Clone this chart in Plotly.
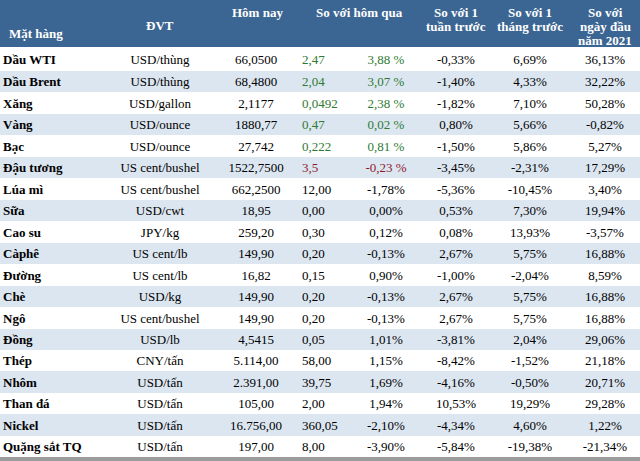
import plotly.graph_objects as go

items = ["Dầu WTI", "Dầu Brent", "Xăng", "Vàng", "Bạc", "Đậu tương", "Lúa mì", "Sữa",
         "Cao su", "Càphê", "Đường", "Chè", "Ngô", "Đồng", "Thép", "Nhôm", "Than đá",
         "Nickel", "Quặng sắt TQ"]
units = ["USD/thùng", "USD/thùng", "USD/gallon", "USD/ounce", "USD/ounce", "US cent/bushel",
         "US cent/bushel", "USD/cwt", "JPY/kg", "US cent/lb", "US cent/lb", "USD/kg",
         "US cent/bushel", "USD/lb", "CNY/tấn", "USD/tấn", "USD/tấn", "USD/tấn", "USD/tấn"]
today = ["66,0500", "68,4800", "2,1177", "1880,77", "27,742", "1522,7500", "662,2500", "18,95",
         "259,20", "149,90", "16,82", "149,90", "149,90", "4,5415", "5.114,00", "2.391,00",
         "105,00", "16.756,00", "197,00"]
chg = ["2,47", "2,04", "0,0492", "0,47", "0,222", "3,5", "12,00", "0,00", "0,30", "0,20", "0,15",
       "0,20", "0,20", "0,05", "58,00", "39,75", "2,00", "360,05", "8,00"]
chg_pct = ["3,88 %", "3,07 %", "2,38 %", "0,02 %", "0,81 %", "-0,23 %", "-1,78%", "0,00%",
           "0,12%", "-0,13%", "0,90%", "-0,13%", "-0,13%", "1,01%", "1,15%", "1,69%", "1,94%",
           "-2,10%", "-3,90%"]
week = ["-0,33%", "-1,40%", "-1,82%", "0,80%", "-1,50%", "-3,45%", "-5,36%", "0,53%", "0,08%",
        "2,67%", "-1,00%", "2,67%", "2,67%", "-3,81%", "-8,42%", "-4,16%", "10,53%", "-4,34%",
        "-5,84%"]
month = ["6,69%", "4,33%", "7,10%", "5,66%", "5,86%", "-2,31%", "-10,45%", "7,30%", "13,93%",
         "5,75%", "-2,04%", "5,75%", "5,75%", "2,04%", "-1,52%", "-0,50%", "19,29%", "4,60%",
         "-19,38%"]
ytd = ["36,13%", "32,22%", "50,28%", "-0,82%", "5,27%", "17,29%", "3,40%", "19,94%", "-3,57%",
       "16,88%", "8,59%", "16,88%", "16,88%", "29,06%", "21,18%", "20,71%", "29,28%", "1,22%",
       "-21,34%"]
# direction of the day-on-day change used for colouring: 1 up, -1 down, 0 neutral
trend = [1, 1, 1, 1, 1, -1, 0, 0, 0, 0, 0, 0, 0, 0, 0, 0, 0, 0, 0]

header_lines = [["Mặt hàng"], ["ĐVT"], ["Hôm nay"], ["So với hôm qua"],
                ["So với 1", "tuần trước"], ["So với 1", "tháng trước"],
                ["So với", "ngày đầu", "năm 2021"]]

# ---- layout constants (pixel-like canvas units) ----
W, H = 640, 461
HEADER_H = 47
FIRST_ROW_H = 24
ROW_H = 21.46
HEADER_BLUE = "#3B6592"
STRIPE = "#DCE6F1"
GREEN = "#2F7A32"
RED = "#8E1B2C"
BORDER = "#9C9C9C"
FONT = "Liberation Serif, Times New Roman, serif"
FS = 13

n = len(items)
row_top = [HEADER_H] + [HEADER_H + FIRST_ROW_H + (i - 1) * ROW_H for i in range(1, n)]
row_h = [FIRST_ROW_H] + [ROW_H] * (n - 1)
row_mid = [t + h / 2 for t, h in zip(row_top, row_h)]
text_y = [m + 1.5 for m in row_mid]
table_bottom = row_top[-1] + row_h[-1]

fig = go.Figure()

# background bands: header, striped rows, bottom border
band_y = [HEADER_H / 2] + row_mid + [(table_bottom + H) / 2]
band_w = [HEADER_H] + row_h + [H - table_bottom]
band_c = [HEADER_BLUE] + ["white" if i % 2 == 0 else STRIPE for i in range(n)] + [BORDER]
fig.add_trace(go.Bar(
    orientation="h", y=band_y, x=[W] * len(band_y), base=0, width=band_w,
    marker=dict(color=band_c, line=dict(width=0)), hoverinfo="skip", showlegend=False,
))

chg_color = [GREEN if t > 0 else (RED if t < 0 else "black") for t in trend]

# (values, x anchor, textposition, colours, bold)
columns = [
    (items, 3, "middle right", "black", True),
    (units, 160, "middle center", "black", False),
    (today, 256, "middle center", "black", False),
    (chg, 302, "middle right", chg_color, False),
    (chg_pct, 386, "middle center", chg_color, False),
    (week, 456, "middle center", "black", False),
    (month, 530, "middle center", "black", False),
    (ytd, 605, "middle center", "black", False),
]
for vals, x, pos, col, bold in columns:
    fig.add_trace(go.Scatter(
        x=[x] * n, y=text_y, mode="text",
        text=[f"<b>{v}</b>" if bold else v for v in vals],
        textposition=pos,
        textfont=dict(family=FONT, size=FS, color=col),
        hoverinfo="skip", showlegend=False,
    ))

# header labels
header_x = [7, 160, 257, 359, 456, 530, 605]
header_anchor = ["left", "center", "center", "center", "center", "center", "center"]
header_first_y = [33, 25.5, 12.5, 12.5, 12.5, 12.5, 12.5]
LINE_STEP = 13.8
for lines, x, anc, y0 in zip(header_lines, header_x, header_anchor, header_first_y):
    for k, line in enumerate(lines):
        fig.add_annotation(
            x=x, y=y0 + k * LINE_STEP, xref="x", yref="y", text=f"<b>{line}</b>",
            showarrow=False, xanchor=anc, yanchor="middle",
            font=dict(family=FONT, size=FS, color="white"),
        )

fig.update_layout(
    width=W, height=H, margin=dict(l=0, r=0, t=0, b=0),
    paper_bgcolor="white", plot_bgcolor="white",
    xaxis=dict(range=[0, W], visible=False, fixedrange=True),
    yaxis=dict(range=[H, 0], visible=False, fixedrange=True),
    bargap=0,
)

fig.write_html(
    "out.html",
    config={"displayModeBar": False},
    post_script=("document.documentElement.style.margin='0';"
                 "document.body.style.margin='0';"
                 "document.documentElement.style.overflow='hidden';"
                 "document.body.style.overflow='hidden';"),
)
